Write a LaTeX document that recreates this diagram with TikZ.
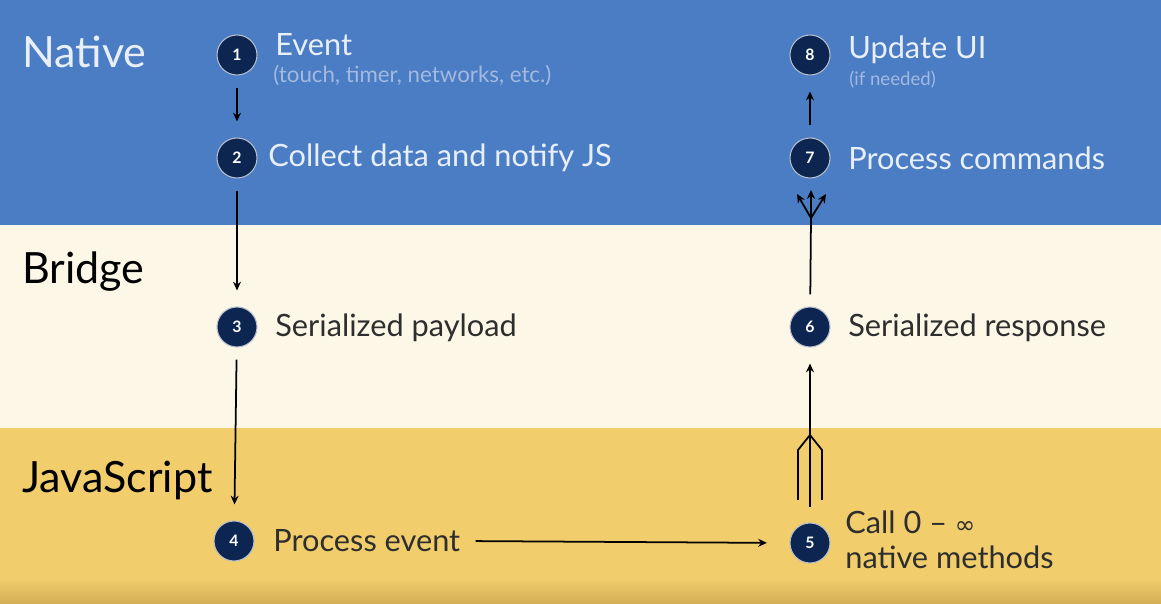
\documentclass[tikz,border=0pt]{standalone}
\usepackage{fontspec}
\setmainfont{Lato}
\newfontfamily\symbolfont{DejaVu Sans}
\usetikzlibrary{arrows.meta}

\definecolor{nativeblue}{HTML}{4A7DC3}
\definecolor{bridgecream}{HTML}{FDF7E7}
\definecolor{jsyellow}{HTML}{F1CD6C}
\definecolor{jsdark}{HTML}{D4AE55}
\definecolor{stepnavy}{HTML}{0C2551}
\definecolor{lighttext}{HTML}{E8EFFA}
\definecolor{subtext}{HTML}{A3B9E0}
\definecolor{darktext}{HTML}{2E2E2E}

\tikzset{
  stepcircle/.style={circle,fill=stepnavy,draw=white!70!stepnavy,line width=0.6pt,
    minimum size=0.8cm,inner sep=0pt,text=white,font=\fontsize{9}{10}\selectfont\bfseries},
  steptext/.style={anchor=west,inner sep=0pt,font=\fontsize{17.5}{20}\selectfont},
  smalltext/.style={anchor=west,inner sep=0pt,text=subtext,font=\fontsize{12.7}{14}\selectfont},
  lanelabel/.style={anchor=west,inner sep=0pt,font=\fontsize{24.5}{30}\selectfont},
  flow/.style={line width=1pt,-{Stealth[length=5pt,width=4.5pt]},shorten <=0.24cm,shorten >=0.32cm},
  stem/.style={line width=1pt}
}

\begin{document}
\begin{tikzpicture}[x=0.02cm,y=-0.02cm]
% lanes
\fill[nativeblue] (0,0) rectangle (1161,225);
\fill[bridgecream] (0,225) rectangle (1161,428);
\fill[jsyellow] (0,428) rectangle (1161,604);
\shade[top color=jsyellow,bottom color=jsdark] (0,578) rectangle (1161,604);
\useasboundingbox (0,0) rectangle (1161,604);

\node[lanelabel,text=lighttext] (native) at (22,52) {Native};
\node[lanelabel,text=black] (bridge) at (22,272) {Bridge};
\node[lanelabel,text=black] (js) at (22,480) {JavaScript};

% steps
\node[stepcircle] (c1) at (237,55) {1};
\node[stepcircle] (c2) at (237,158) {2};
\node[stepcircle] (c3) at (237,327) {3};
\node[stepcircle] (c4) at (234,541) {4};
\node[stepcircle] (c5) at (810,543) {5};
\node[stepcircle] (c6) at (810,327) {6};
\node[stepcircle] (c7) at (810,158) {7};
\node[stepcircle] (c8) at (810,55) {8};

\node[steptext,text=lighttext] (t1) at (275,45) {Event};
\node[smalltext] (s1) at (273,75) {(touch, timer, networks, etc.)};
\node[steptext,text=lighttext] (t2) at (268,158) {Collect data and notify JS};
\node[steptext,text=darktext] (t3) at (275,328) {Serialized payload};
\node[steptext,text=darktext] (t4) at (273,541) {Process event};
\node[steptext,text=darktext,align=left,font=\fontsize{17.5}{20}\selectfont] (t5) at (845,540)
  {Call 0 -- {\symbolfont\fontsize{14}{16}\selectfont ∞}\\native methods};
\node[steptext,text=darktext] (t6) at (848,328) {Serialized response};
\node[steptext,text=lighttext] (t7) at (848,158) {Process commands};
\node[steptext,text=lighttext] (t8) at (848,50) {Update UI};
\node[smalltext,font=\fontsize{10.6}{12}\selectfont] (s8) at (849,80) {(if needed)};

% connectors
\draw[flow] (c1) -- (c2);
\draw[flow] (c2) -- (c3);
\draw[flow] (c3) -- (c4);
\draw[flow,shorten <=0.3cm,shorten >=0.45cm] (t4.east) -- (c5.west);

% fan from 5 into 6
\coordinate (m5) at (810,435);
\coordinate (l5) at (798,500);
\coordinate (r5) at (822,500);
\coordinate (b5) at (810,507);
\draw[stem] (l5) -- (798,450) -- (m5);
\draw[stem] (r5) -- (822,450) -- (m5);
\draw[stem] (b5) -- (m5);
\draw[flow,shorten <=0pt] (m5) -- (c6);

% fan from 6 into 7
\coordinate (m7) at (811,218);
\coordinate (l7) at (797,194);
\coordinate (u7) at (811,190);
\coordinate (r7) at (826,194);
\draw[stem,shorten <=0.24cm] (c6) -- (m7);
\foreach \tip in {l7,u7,r7}
  \draw[flow,shorten <=0pt,shorten >=0pt] (m7) -- (\tip);
\draw[flow] (c7) -- (c8);
\end{tikzpicture}
\end{document}
